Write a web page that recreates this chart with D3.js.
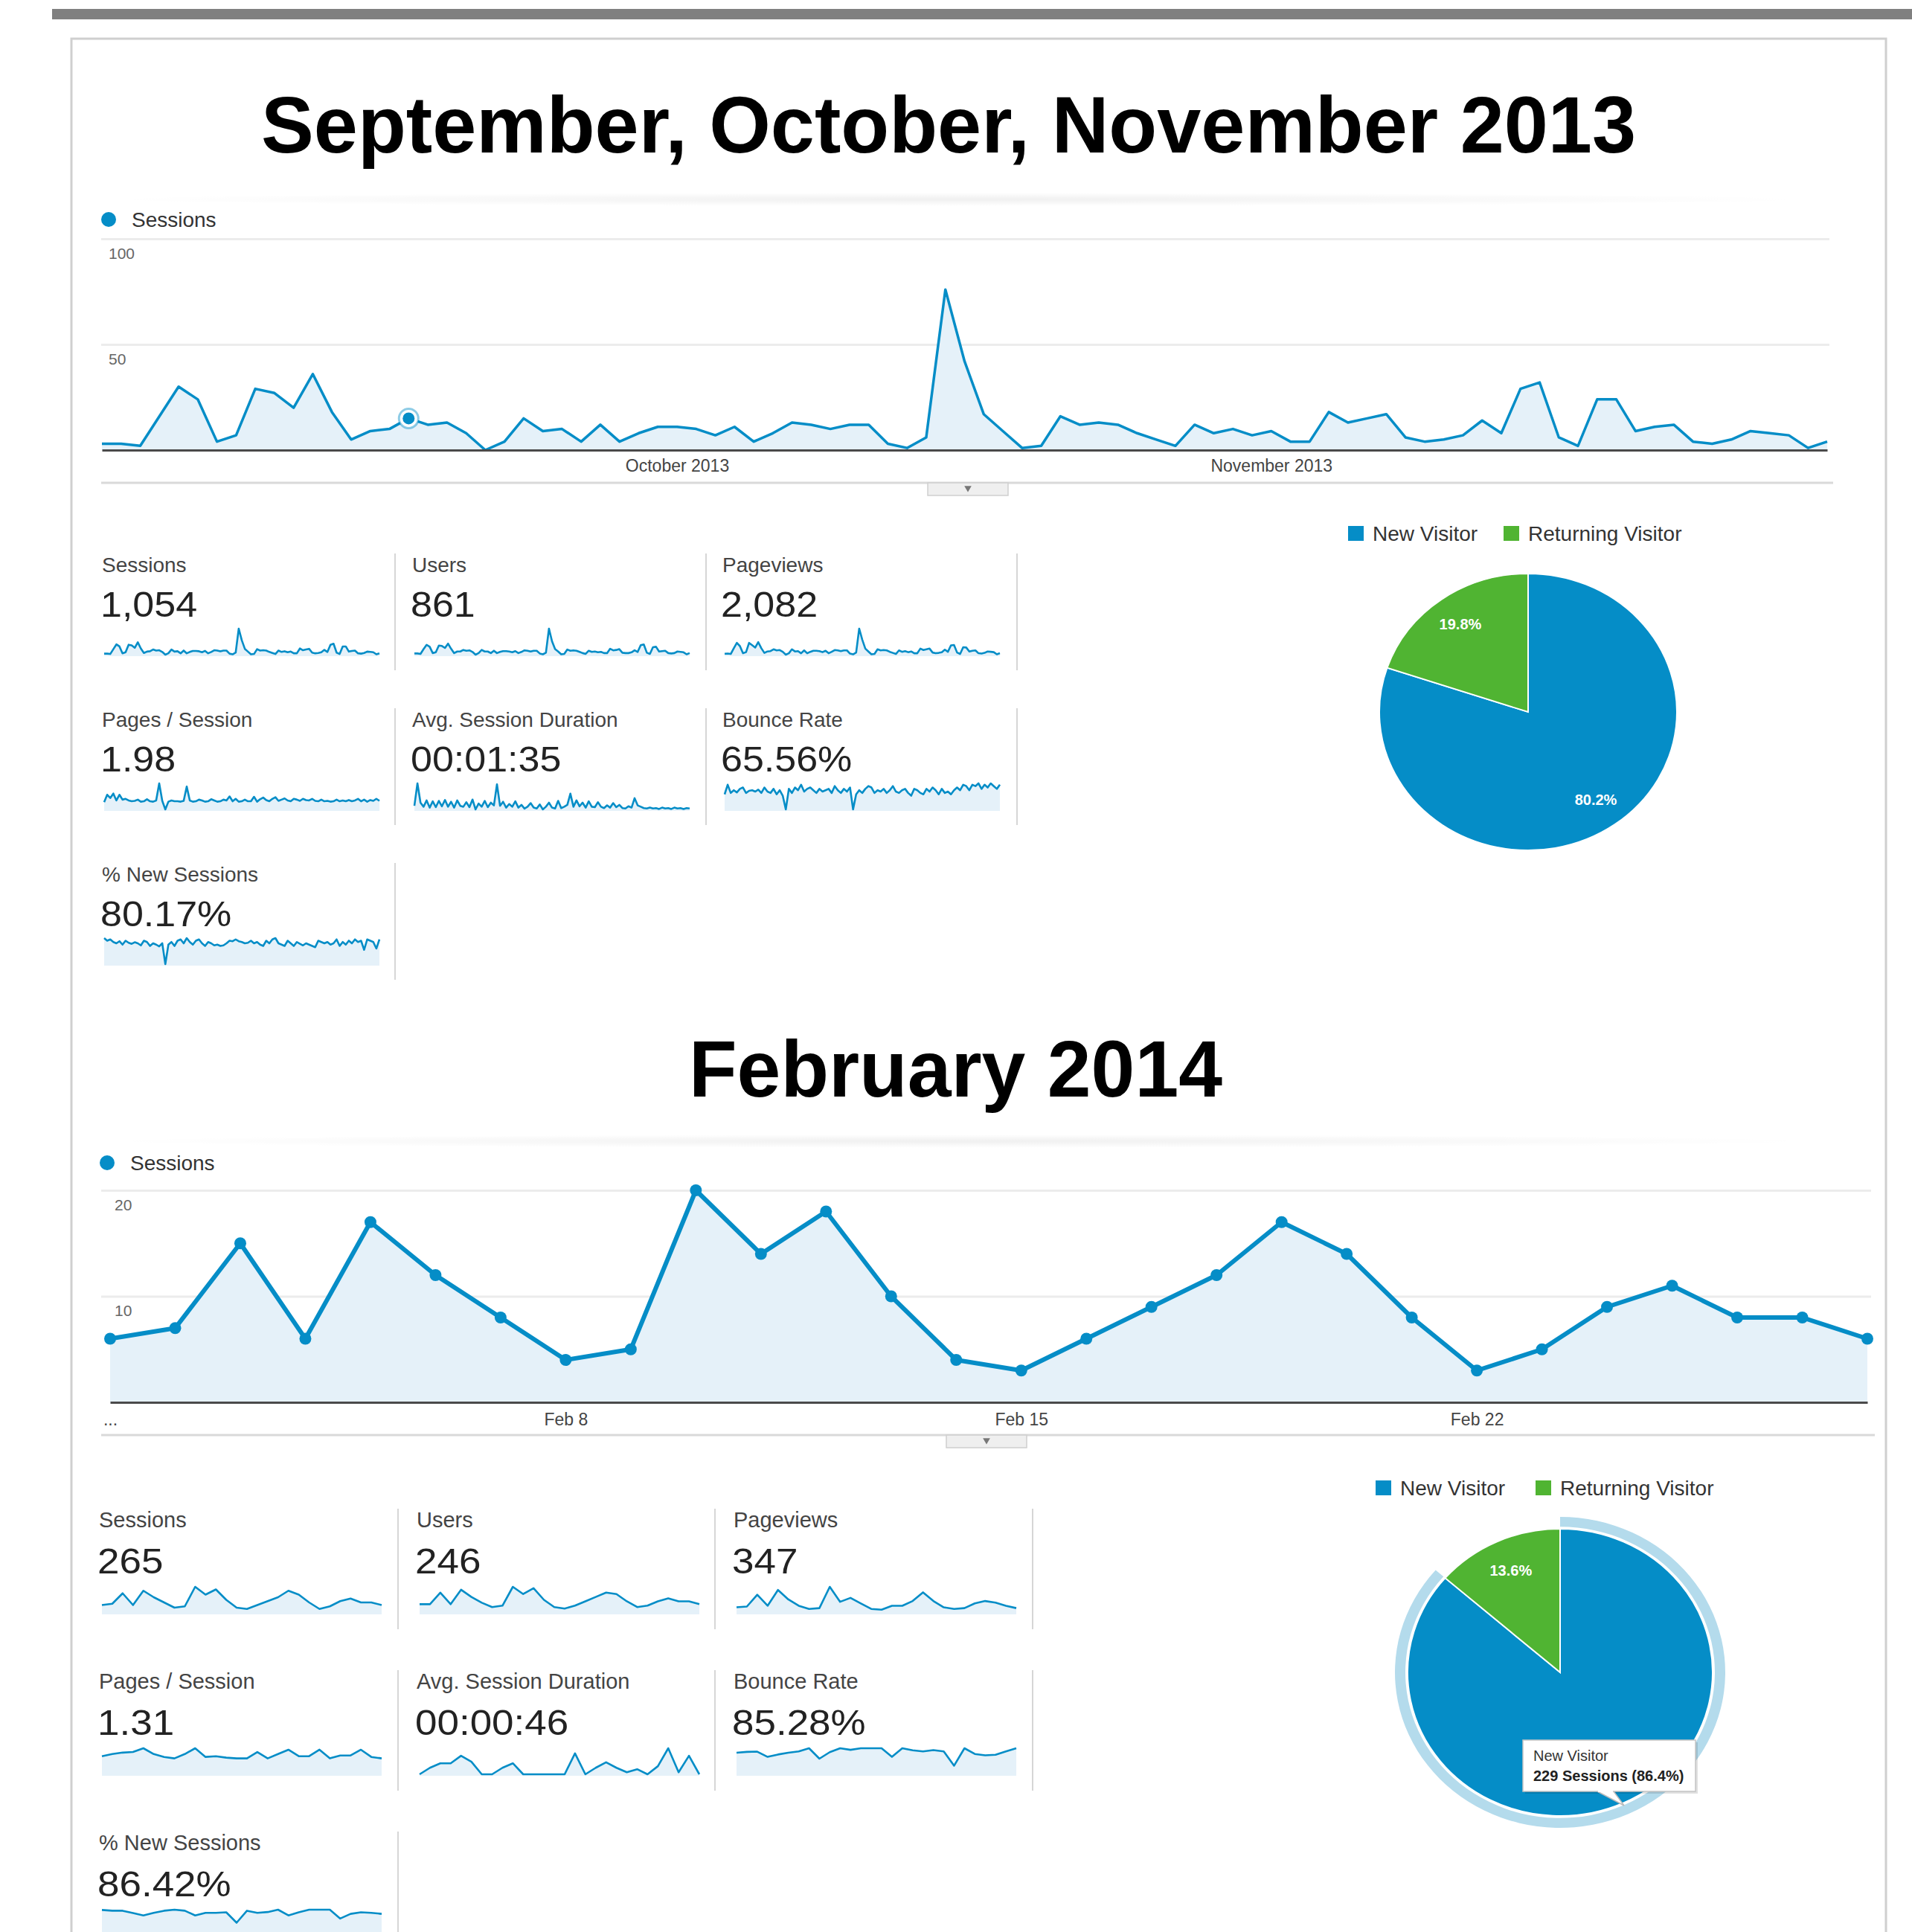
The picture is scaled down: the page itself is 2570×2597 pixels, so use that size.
<!DOCTYPE html>
<html>
<head>
<meta charset="utf-8">
<title>Sessions overview</title>
<style>
  body { margin: 0; background: #fff; }
  svg { display: block; font-family: "Liberation Sans", Arial, sans-serif; }
</style>
</head>
<body>
<svg width="2570" height="2597"></svg>
<script src="https://cdnjs.cloudflare.com/ajax/libs/d3/7.8.5/d3.min.js"></script>
<script>
// ---------- data ----------
const titles = ["September, October, November 2013", "February 2014"];

// daily sessions, Sep 1 - Nov 30 2013
const p1Sessions = [3,3,2,16,30,24,4,7,29,27,20,36,18,5,9,10,15,12,13,
  8,0,4,15,9,10,4,12,4,8,11,11,10,7,11,4,8,13,12,
  10,12,12,3,1,6,76,42,17,9,1,2,16,12,13,12,8,5,
  2,12,8,10,7,9,4,4,18,13,15,17,6,4,5,7,14,8,
  29,32,6,2,24,24,9,11,12,4,3,5,9,8,7,1,4];
const p1Users = [3,3,2,14,25,20,4,6,23,22,17,28,15,4,8,8,12,10,11,
  7,0,4,12,8,8,4,10,4,7,9,9,8,6,9,4,7,11,10,
  8,10,10,3,1,5,66,34,14,8,1,2,13,10,11,10,7,4,
  2,10,7,8,6,7,4,4,15,11,12,14,5,4,4,6,11,7,
  24,26,5,2,19,20,8,9,10,4,3,4,8,7,6,1,4];
const p1Pageviews = [5,6,4,36,66,48,8,14,66,53,40,70,36,10,18,20,30,24,26,
  16,0,8,30,18,20,8,24,8,16,22,22,20,14,22,8,16,26,24,
  20,24,24,6,2,12,146,84,34,18,2,4,30,24,26,24,16,10,
  4,24,16,20,14,18,8,8,34,26,30,34,12,8,10,14,28,16,
  52,54,12,4,42,40,18,22,24,8,6,10,18,16,14,2,8];
const p1PagesPerSession = [1.8,3.6,2.8,3.9,2.2,3.6,2.4,2.6,2.2,2.0,2.1,2.4,1.9,2.0,2.5,2.0,1.9,2.2,6.4,
  2.1,0,1.9,2.2,2.0,2.0,1.9,2.1,5.6,2.2,1.9,2.0,2.4,2.2,1.9,2.0,2.5,2.2,1.9,
  2.0,2.4,2.2,3.2,2.0,2.6,1.9,2.0,2.4,2.0,2.0,3.1,1.9,2.5,2.9,2.3,2.0,2.6,
  3.0,2.1,2.4,2.7,2.2,2.0,2.6,2.4,2.1,2.6,2.3,2.2,2.6,2.1,2.0,2.4,2.0,2.1,
  1.9,2.0,2.4,2.0,2.2,2.0,2.3,2.0,2.2,2.6,2.0,2.4,1.9,2.3,2.1,2.6,2.1];
const p1AvgDuration = [80,580,150,60,200,40,180,50,190,70,210,60,170,40,200,80,60,160,50,
  220,0,130,60,190,50,150,90,560,80,170,40,120,60,180,40,100,20,60,
  140,40,20,110,0,60,150,40,20,190,30,60,100,350,60,200,70,150,
  40,180,60,50,160,60,30,90,40,140,50,100,30,20,70,40,250,90,
  60,30,20,40,20,30,10,40,20,30,10,40,20,30,10,30,20];
const p1BounceRate = [55,90,60,70,62,75,80,60,68,70,65,72,60,80,65,60,75,55,70,
  50,0,75,60,80,70,90,65,75,80,70,60,75,65,70,75,60,85,70,
  60,75,65,80,0,55,70,60,75,85,80,60,70,65,75,60,70,85,
  65,60,70,75,60,50,75,70,60,55,75,65,80,70,55,75,60,65,
  55,70,80,70,90,85,70,90,85,95,75,90,80,95,85,75,90];
const p1NewSessions = [100,90,95,85,80,88,75,90,82,78,84,80,72,90,85,70,80,75,68,
  80,0,75,85,70,90,95,80,100,85,75,90,95,80,70,85,80,72,75,
  70,72,80,90,88,95,88,85,80,82,90,80,85,75,70,90,80,95,
  100,80,75,70,90,80,70,85,78,72,80,75,70,65,90,85,80,85,
  75,80,95,70,85,75,90,80,95,85,90,55,95,90,85,60,95];

// daily sessions, Feb 1 - Feb 28 2014
const p2Sessions = [6,7,15,6,17,12,8,4,5,20,14,18,10,4,3,6,9,12,17,14,8,3,5,9,11,8,8,6];
const p2Users = [6,6,14,6,16,11,7,4,5,18,13,17,9,4,3,5,8,11,14,13,8,4,5,8,10,8,8,6];
const p2Pageviews = [7,8,23,9,29,17,9,5,6,33,14,19,12,5,4,9,9,15,26,15,7,5,6,12,15,13,9,6];
const p2PagesPerSession = [1.25,1.4,1.5,1.54,1.8,1.4,1.2,1.1,1.4,1.8,1.2,1.25,1.15,1.1,1.1,1.54,1.1,1.4,1.7,1.25,1.25,1.7,1.1,1.3,1.3,1.7,1.2,1.1];
const p2AvgDuration = [0,45,76,76,128,87,0,0,45,76,0,0,0,0,0,145,0,45,83,45,14,35,0,56,180,14,128,0];
const p2BounceRate = [83,86,87,67,76,83,88,100,60,85,100,94,100,100,100,67,100,92,88,93,88,33,100,78,73,75,88,100];
const p2NewSessions = [99,96,96,87,78,88,96,100,96,78,88,88,90,50,96,88,91,100,78,90,100,100,100,66,84,90,88,84];

const metricNames = ["Sessions", "Users", "Pageviews", "Pages / Session", "Avg. Session Duration", "Bounce Rate", "% New Sessions"];
const p1MetricValues = ["1,054", "861", "2,082", "1.98", "00:01:35", "65.56%", "80.17%"];
const p2MetricValues = ["265", "246", "347", "1.31", "00:00:46", "85.28%", "86.42%"];

const visitorTypes = ["New Visitor", "Returning Visitor"];
const p1VisitorSessions = [845, 209];
const p2VisitorSessions = [229, 36];

const p1TickLabels = ["October 2013", "November 2013"];
const p2TickLabels = ["...", "Feb 8", "Feb 15", "Feb 22"];
const p1YTicks = [50, 100];
const p2YTicks = [10, 20];

// ---------- drawing ----------
const BLUE = "#058dc7", FILL = "#e5f1f9", GREEN = "#50b432";
const svg = d3.select("svg");
svg.append("rect").attr("width", 2570).attr("height", 2597).attr("fill", "#fff");

function label(parent, x, y, str, size, opts = {}) {
  return parent.append("text")
    .attr("transform", `translate(${x},${y}) scale(1,${opts.sy || 1})`)
    .attr("font-size", size)
    .attr("font-weight", opts.weight || "normal")
    .attr("fill", opts.fill || "#333")
    .attr("text-anchor", opts.anchor || "start")
    .text(str);
}

// page frame
svg.append("rect").attr("x", 70).attr("y", 12).attr("width", 2500).attr("height", 14).attr("fill", "#808080");
svg.append("rect").attr("x", 96).attr("y", 52).attr("width", 2439).attr("height", 2600)
  .attr("fill", "none").attr("stroke", "#cfcfcf").attr("stroke-width", 3);

// faint shadow strip under each title
const defs = svg.append("defs");
const rg = defs.append("radialGradient").attr("id", "shade");
rg.append("stop").attr("offset", "0%").attr("stop-color", "#000").attr("stop-opacity", 0.06);
rg.append("stop").attr("offset", "100%").attr("stop-color", "#000").attr("stop-opacity", 0);
[268, 1534].forEach(cy => svg.append("ellipse").attr("cx", 1290).attr("cy", cy).attr("rx", 1150).attr("ry", 9).attr("fill", "url(#shade)"));

// titles
svg.append("text").attr("x", 351).attr("y", 205).attr("font-size", 108).attr("font-weight", "bold")
  .attr("textLength", 1848).attr("lengthAdjust", "spacingAndGlyphs").text(titles[0]);
svg.append("text").attr("x", 926).attr("y", 1474).attr("font-size", 108).attr("font-weight", "bold")
  .attr("textLength", 717).attr("lengthAdjust", "spacingAndGlyphs").text(titles[1]);

function drawSessionsChart(c) {
  const x = d3.scaleUtc().domain(d3.extent(c.dates)).range([c.x0, c.x1]);
  const y = d3.scaleLinear().domain([0, c.yMax]).range([c.yBase, c.yTop]);

  svg.append("circle").attr("cx", c.legendX).attr("cy", c.legendY).attr("r", 10).attr("fill", BLUE);
  label(svg, c.legendX + 31, c.legendY + 10, "Sessions", 28, { fill: "#333" });

  const gy = svg.append("g").attr("transform", `translate(${c.gx0},0)`)
    .call(d3.axisLeft(y).tickValues(c.yTicks).tickSize(-(c.gx1 - c.gx0)))
    .attr("font-family", null).attr("font-size", null);
  gy.select(".domain").remove();
  gy.selectAll(".tick line").attr("stroke", "#ececec").attr("stroke-width", 3);
  gy.selectAll(".tick text").attr("x", c.yLabelDx).attr("dy", 26).attr("text-anchor", "start")
    .attr("fill", "#666").attr("font-size", 21);

  const pts = c.dates.map((d, i) => ({ date: d, v: c.values[i] }));
  svg.append("path").datum(pts)
    .attr("d", d3.area().x(d => x(d.date)).y0(c.yBase).y1(d => y(d.v)))
    .attr("fill", FILL);
  svg.append("path").datum(pts)
    .attr("d", d3.line().x(d => x(d.date)).y(d => y(d.v)))
    .attr("fill", "none").attr("stroke", BLUE).attr("stroke-width", c.lineWidth).attr("stroke-linejoin", "round");

  const gx = svg.append("g").attr("transform", `translate(0,${c.yBase})`)
    .call(d3.axisBottom(x).tickValues(c.tickDates).tickFormat((d, i) => c.tickLabels[i]).tickSize(0).tickSizeOuter(0))
    .attr("font-family", null).attr("font-size", null);
  gx.select(".domain").attr("stroke", "#4a4a4a").attr("stroke-width", 3);
  gx.selectAll(".tick text").attr("y", c.xLabelDy).attr("dy", null).attr("fill", "#444").attr("font-size", 23);

  if (c.markers) {
    svg.selectAll(null).data(pts).join("circle")
      .attr("cx", d => x(d.date)).attr("cy", d => y(d.v)).attr("r", 8).attr("fill", BLUE);
  }
  if (c.hover != null) {
    const p = pts[c.hover];
    svg.append("circle").attr("cx", x(p.date)).attr("cy", y(p.v)).attr("r", 13)
      .attr("fill", "#fff").attr("stroke", BLUE).attr("stroke-opacity", 0.45).attr("stroke-width", 3);
    svg.append("circle").attr("cx", x(p.date)).attr("cy", y(p.v)).attr("r", 8).attr("fill", BLUE);
  }

  // separator and collapse tab
  svg.append("line").attr("x1", c.gx0).attr("x2", c.gx1 + 5).attr("y1", c.sepY).attr("y2", c.sepY)
    .attr("stroke", "#d9d9d9").attr("stroke-width", 3);
  svg.append("rect").attr("x", c.tabX).attr("y", c.sepY).attr("width", 108).attr("height", 17)
    .attr("fill", "#efefef").attr("stroke", "#cfcfcf").attr("stroke-width", 1.5);
  svg.append("path").attr("d", d3.symbol(d3.symbolTriangle, 40)())
    .attr("transform", `translate(${c.tabX + 54},${c.sepY + 7}) rotate(180)`).attr("fill", "#777");
}

drawSessionsChart({
  dates: d3.utcDay.range(new Date(Date.UTC(2013, 8, 1)), new Date(Date.UTC(2013, 11, 1))),
  values: p1Sessions, yMax: 100, yTicks: p1YTicks,
  x0: 137, x1: 2456, yBase: 605, yTop: 321, gx0: 136, gx1: 2459, yLabelDx: 10,
  legendX: 146, legendY: 295, lineWidth: 3.5, xLabelDy: 29,
  tickDates: [new Date(Date.UTC(2013, 9, 1)), new Date(Date.UTC(2013, 10, 1))], tickLabels: p1TickLabels,
  hover: 16, sepY: 649, tabX: 1247
});

drawSessionsChart({
  dates: d3.utcDay.range(new Date(Date.UTC(2014, 1, 1)), new Date(Date.UTC(2014, 2, 1))),
  values: p2Sessions, yMax: 20, yTicks: p2YTicks,
  x0: 148, x1: 2510, yBase: 1885, yTop: 1600, gx0: 136, gx1: 2515, yLabelDx: 18,
  legendX: 144, legendY: 1563, lineWidth: 6, xLabelDy: 31, markers: true,
  tickDates: [1, 8, 15, 22].map(d => new Date(Date.UTC(2014, 1, d))), tickLabels: p2TickLabels,
  sepY: 1929, tabX: 1272
});

function sparkline(values, x0, x1, yTop, yBottom) {
  const x = d3.scaleLinear().domain([0, values.length - 1]).range([x0, x1]);
  const y = d3.scaleLinear().domain([0, d3.max(values)]).range([yBottom - 2, yTop]);
  svg.append("path").datum(values)
    .attr("d", d3.area().x((d, i) => x(i)).y0(yBottom).y1(d => y(d)))
    .attr("fill", FILL);
  svg.append("path").datum(values)
    .attr("d", d3.line().x((d, i) => x(i)).y(d => y(d)))
    .attr("fill", "none").attr("stroke", BLUE).attr("stroke-width", 2.6).attr("stroke-linejoin", "round");
}

function drawMetrics(c) {
  metricNames.forEach((name, k) => {
    const col = k % 3, row = Math.floor(k / 3), dy = row * c.rowStep;
    svg.append("line").attr("x1", c.divX[col]).attr("x2", c.divX[col])
      .attr("y1", c.divTop + dy).attr("y2", c.divBottom + dy).attr("stroke", "#d6d6d6").attr("stroke-width", 2);
    label(svg, c.colX[col], c.labelY + dy, name, c.labelSize, { fill: "#444" });
    label(svg, c.colX[col] - 2, c.valueY + dy, c.values[k], c.valueSize, { fill: "#222", sy: 0.92 });
    sparkline(c.series[k], c.colX[col] + c.sparkDx, c.colX[col] + c.sparkDx + c.sparkW, c.sparkTop + dy, c.sparkBottom + dy);
  });
}

drawMetrics({
  values: p1MetricValues,
  series: [p1Sessions, p1Users, p1Pageviews, p1PagesPerSession, p1AvgDuration, p1BounceRate, p1NewSessions],
  colX: [137, 554, 971], divX: [531, 949, 1367], rowStep: 208,
  labelY: 769, valueY: 829, sparkTop: 845, sparkBottom: 882, divTop: 744, divBottom: 901,
  labelSize: 28, valueSize: 52, sparkDx: 3, sparkW: 370
});

drawMetrics({
  values: p2MetricValues,
  series: [p2Sessions, p2Users, p2Pageviews, p2PagesPerSession, p2AvgDuration, p2BounceRate, p2NewSessions],
  colX: [133, 560, 986], divX: [535, 961, 1388], rowStep: 217,
  labelY: 2053, valueY: 2115, sparkTop: 2133, sparkBottom: 2170, divTop: 2028, divBottom: 2190,
  labelSize: 29, valueSize: 53, sparkDx: 4, sparkW: 376
});

function drawPie(c) {
  const colors = [BLUE, GREEN];
  // legend
  visitorTypes.forEach((t, i) => {
    svg.append("rect").attr("x", c.legendX[i]).attr("y", c.legendY - 20).attr("width", 21).attr("height", 20).attr("fill", colors[i]);
    label(svg, c.legendX[i] + 33, c.legendY, t, 28, { fill: "#333" });
  });
  const k = c.ry / c.rx;
  const arcs = d3.pie().sort(null)(c.sessions);
  const g = svg.append("g").attr("transform", `translate(${c.cx},${c.cy}) scale(1,${k})`);
  if (c.halo) {
    g.append("path").attr("d", d3.arc().innerRadius(c.rx + 3).outerRadius(c.rx + 17)(arcs[0])).attr("fill", "#b4dbec");
  }
  g.selectAll("path.slice").data(arcs).join("path").attr("class", "slice")
    .attr("d", d3.arc().innerRadius(0).outerRadius(c.rx))
    .attr("fill", (d, i) => colors[i]).attr("stroke", "#fff").attr("stroke-width", 2);
  const total = d3.sum(c.sessions);
  const mid = d3.arc().innerRadius(c.rx * 0.78).outerRadius(c.rx * 0.78);
  // the slice under the tooltip has its label covered, so it is not drawn
  arcs.filter((a, i) => !(c.tooltip && i === 0)).forEach(a => {
    const [px, py] = mid.centroid(a);
    label(svg, c.cx + px, c.cy + py * k + 7, d3.format(".1f")(a.data / total * 100) + "%", 20,
      { fill: "#fff", weight: "bold", anchor: "middle" });
  });
  if (c.tooltip) {
    const t = c.tooltip;
    const tip = svg.append("g");
    tip.append("rect").attr("x", t.x + 3).attr("y", t.y + 3).attr("width", 232).attr("height", 69).attr("fill", "#000").attr("opacity", 0.12);
    tip.append("path").attr("d", `M${t.x + 100},${t.y + 69} L${t.x + 136},${t.y + 88} L${t.x + 122},${t.y + 69}`)
      .attr("fill", "#fff").attr("stroke", "#bbb").attr("stroke-width", 1.5);
    tip.append("rect").attr("x", t.x).attr("y", t.y).attr("width", 232).attr("height", 69)
      .attr("fill", "#fff").attr("stroke", "#c4c4c4").attr("stroke-width", 1.5);
    tip.append("rect").attr("x", t.x + 101).attr("y", t.y + 66).attr("width", 20).attr("height", 4).attr("fill", "#fff");
    label(tip, t.x + 14, t.y + 28, visitorTypes[0], 20, { fill: "#333" });
    const pct = d3.format(".1f")(c.sessions[0] / total * 100);
    label(tip, t.x + 14, t.y + 55, `${c.sessions[0]} Sessions (${pct}%)`, 20, { fill: "#222", weight: "bold" });
  }
}

drawPie({ sessions: p1VisitorSessions, cx: 2054, cy: 957, rx: 200, ry: 186, legendX: [1812, 2021], legendY: 727 });
drawPie({ sessions: p2VisitorSessions, cx: 2097, cy: 2248, rx: 205, ry: 193, legendX: [1849, 2064], legendY: 2010,
  halo: true, tooltip: { x: 2047, y: 2339 } });
</script>
</body>
</html>
